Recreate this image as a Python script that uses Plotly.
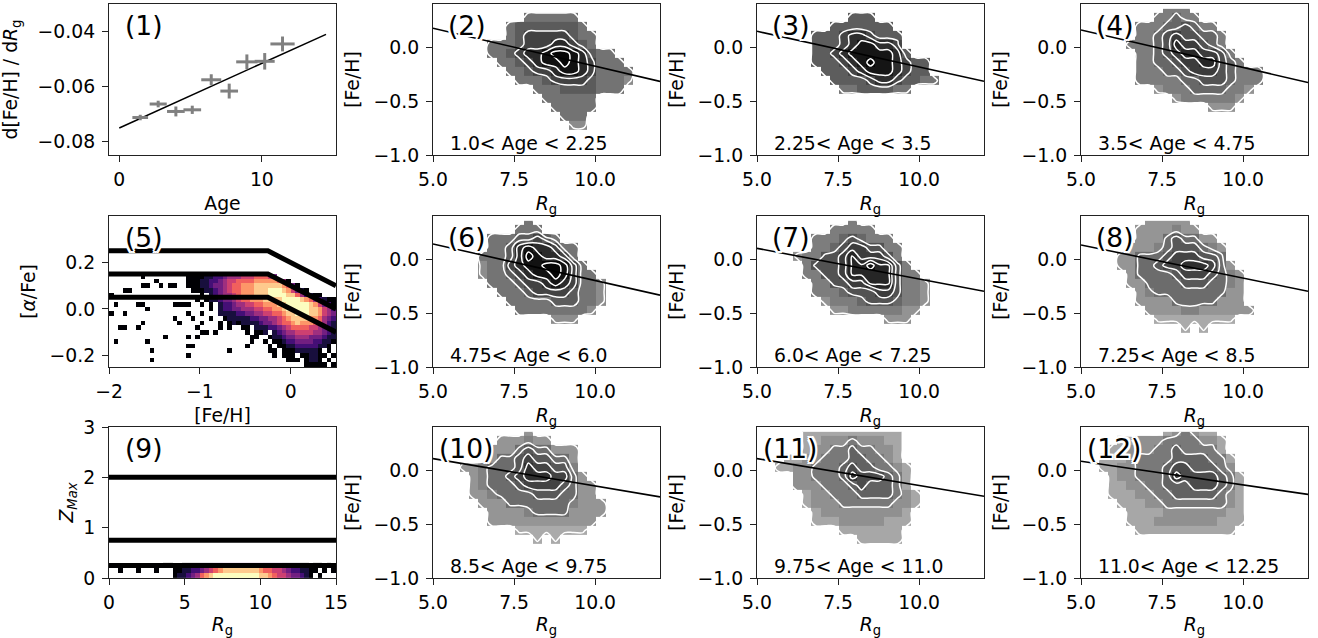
import plotly.graph_objects as go
import plotly.colors as pc

FONT = "DejaVu Sans"
FS = 18.8
W, H = 1318, 638
COLS = [(109, 336), (433, 660), (757, 984), (1081, 1308)]
ROWS = [(4, 155), (216, 367), (427, 578)]

# panel 1: gradient against age
age = [1.47, 2.73, 3.97, 5.12, 6.45, 7.71, 8.95, 10.2, 11.45]
grad = [-0.0712, -0.0663, -0.069, -0.0684, -0.0575, -0.0616, -0.051, -0.0508, -0.0445]
age_err = [0.55, 0.6, 0.62, 0.62, 0.7, 0.62, 0.75, 0.7, 0.85]
grad_err = [0.001, 0.0012, 0.0018, 0.0015, 0.002, 0.0027, 0.0027, 0.003, 0.0027]
fit_age = [0, 14.5]
fit_grad = [-0.075, -0.041]

age_labels = {2: "1.0< Age < 2.25", 3: "2.25< Age < 3.5", 4: "3.5< Age < 4.75",
              6: "4.75< Age < 6.0", 7: "6.0< Age < 7.25", 8: "7.25< Age < 8.5",
              10: "8.5< Age < 9.75", 11: "9.75< Age < 11.0", 12: "11.0< Age < 12.25"}
# fitted gradient line: [Fe/H] at Rg=5 and Rg=12
line_ends = {2: (0.176, -0.318), 3: (0.147, -0.316), 4: (0.159, -0.328),
             6: (0.141, -0.334), 7: (0.10, -0.298), 8: (0.131, -0.298),
             10: (0.107, -0.248), 11: (0.107, -0.242), 12: (0.083, -0.225)}
outer_levels = {2: 2.0, 3: 2.5, 4: 2.0, 6: 2.0, 7: 2.0, 8: 1.5, 10: 1.5, 11: 1.0, 12: 1.0}
inner_levels = {2: [5.5, 6.5, 7.5, 8.5], 3: [5.6, 6.6, 7.6, 8.6], 4: [4.5, 5.5, 6.5, 7.5],
                6: [4.5, 5.5, 6.5, 7.5, 8.5], 7: [5.5, 6.5, 7.3, 7.9, 8.6], 8: [4.5, 5.5, 6.5, 7.5],
                10: [4.5, 5.5, 6.5, 7.5], 11: [3.6, 4.6, 5.5, 6.5], 12: [3.5, 4.5, 5.5, 6.5]}
gray_top = {2: 8.4, 3: 8.6, 4: 9.5, 6: 8.5, 7: 9.5, 8: 10, 10: 10, 11: 9, 12: 9}

# density grids, bins of 0.28 in Rg and 0.0833 in [Fe/H], from [Fe/H]=0.4 down; '.' is empty
grid2 = ["",
 ".......... 444444",
 "........ 455555554",
 "........ 4566666544",
 "...... 444566677654",
 "...... 44567789987544",
 "....... 44567889876444",
 "........ 44566788764444",
 "......... 4445666654443",
 "........... 4445555444",
 "............ 444444",
 "............. 44444",
 ".............. 444",
 "............... 33"]
grid3 = ["",
 ".......... 555",
 "........ 5555555",
 "...... 5556776555",
 "...... 5556788776",
 "...... 55678888875",
 "...... 5556789887655",
 "....... 555678887655",
 "........ 555567765544",
 "......... 44555544"]
grid4 = [
 "......... 444",
 "........ 44544",
 "...... 444556544",
 "...... 4456766554",
 "..... 44456877654",
 "...... 44567887764",
 "...... 445567788654",
 "...... 44455677765444",
 "...... 44444556665444",
 "........ 34445555443",
 ".......... 34444443",
 ".............. 333"]
grid6 = [
 ".......... 4",
 "......... 444",
 "...... 44455654",
 "...... 4457877644",
 "..... 44457987764",
 "..... 344678899864",
 "..... 3445678898644",
 "...... 4445667876443",
 "....... 444566665443",
 "........ 44444555443",
 "......... 444444443",
 "............. 333"]
grid7 = [
 ".......... 4",
 "........ 44444",
 "...... 444565444",
 "...... 4456776644",
 ".... 344667877764",
 "..... 466678898864",
 "..... 4466788888644",
 "...... 4466778886443",
 "...... 4445666776443",
 "....... 344456665443",
 "........ 3344444433",
 ".............. 333"]
grid8 = [
 "....... 33333",
 "...... 3333433",
 "...... 333565533",
 "..... 33345666543",
 ".... 335556777665",
 ".... 3355677888753",
 "..... 3555567776543",
 "..... 3355556665543",
 "...... 345555555533",
 "...... 333355555333",
 "....... 333344333333",
 "........ 222222222",
 "........... 2.2"]
grid10 = [
 ".......... 3",
 "....... 333433",
 "...... 3335655333",
 "...... 3556766553",
 "... 3345556877664",
 ".... 3455678887753",
 ".... 34555677776533",
 ".... 33455556665533",
 "..... 33355555554333",
 "...... 3333455553333",
 "...... 333333333333",
 "......... 22222222",
 "........... 2.2"]
grid11 = [
 "..... 22222222222",
 "..... 22333433322",
 "..... 23344544332",
 "... 2233444554432",
 ".. 223344456554432",
 ".... 3344457666542",
 ".... 3334445655542",
 "..... 2334445555432",
 "..... 2333444444332",
 "...... 23333333332",
 "...... 22233333222",
 "......... 2222222",
 "........... 22222"]
grid12 = [
 "......... 234322",
 ".... 223334444332",
 "... 2233344544442",
 ".. 222344445555442",
 ".. 223344456655543",
 "... 233444576666542",
 "... 223344555666542",
 "... 222334455555432",
 ".... 22233444444432",
 "..... 2222333333322",
 "..... 2223333333222",
 "...... 22222222222"]
grids = {2: grid2, 3: grid3, 4: grid4, 6: grid6, 7: grid7, 8: grid8, 10: grid10, 11: grid11, 12: grid12}

# panel 5: [alpha/Fe] vs [Fe/H], bins 0.05 x 0.02, from 0.15 down
alpha_grid = [
 ".......0.. .......000 0112234445 5566653... .......... ",
 ".......... 0......000 1122345566 6677777640 .......... ",
 ".......00. .0.00..000 1123345667 7788888876 30........ ",
 "...00..... ........00 0112345667 7788899987 5310...... ",
 "0......... .......... 0.12344567 7788899998 8642100... ",
 ".......... .........0 .011233456 6777888899 9987642100 ",
 ".0....00.. ....0000.. 0.0.122344 5566777889 9999875320 ",
 "........0. .......... ..0.122334 4455667789 9999887542 ",
 "0..0...... .......0.. 0...111122 3344556678 8999887543 ",
 ".......... ....0...0. ..0..01111 1223344567 8888776432 ",
 ".......0.. .....0.... 0...0.0101 1112334566 7877766421 ",
 "..00..0... .........0 ....0.0..0 0.11122345 6666554321 ",
 ".......... .......... 00.0...... 0.001.1234 4555544321 ",
 ".......... ..0....0.0 .......... .00..01123 3444333211 ",
 ".0......0. .......... .......... .0..0.0012 2333322110 ",
 ".......... .......00. .......... 0....0.001 122222110. ",
 ".........0 .......... ......0... .....00.00 0111110.0. ",
 ".......... .......0.. .......... ......0.00 0.001100.0 ",
 ".........0 .......... .......... .........0 00.0110.0. ",
 ".......... .......... .......... .......... ...00000.0 "]
alpha_band_low = [(-2, 0.05), (-0.25, 0.05), (0.5, -0.1)]
alpha_band_mid = [(-2, 0.15), (-0.25, 0.15), (0.5, 0.0)]
alpha_band_high = [(-2, 0.25), (-0.25, 0.25), (0.5, 0.1)]

# panel 9: Zmax vs Rg, bins 0.3 x 0.1, from Zmax = 0 up
zmax_grid = [
 ".......... ....011234 6789999999 9998876554 33210.0...",
 "..0...0... 0...001122 3456788888 8887665543 221100.0.0",
 ".......... ..00..0000 1112233333 3333222211 1100.00.0."]
zmax_lines = [2.0, 0.75, 0.25]

RG_RANGE = [5, 12]
FEH_RANGE = [-1.0, 0.4]

fig = go.Figure()
layout = dict(width=W, height=H, autosize=False, margin=dict(l=0, r=0, t=0, b=0, pad=0),
              paper_bgcolor="white", plot_bgcolor="white", showlegend=False,
              font=dict(family=FONT, size=FS, color="black"), annotations=[])


def ax(n):
    return "" if n == 1 else str(n)


def axis_setup(n, xr, yr, xticks, yticks, xtext, ytext, xtitle, ytitle, xs=8, ys=8):
    r = (n - 1) // 4
    c = (n - 1) % 4
    x0, x1 = COLS[c]
    y0, y1 = ROWS[r]
    common = dict(showgrid=False, zeroline=False, showline=True, mirror=True, linecolor="#222222",
                  linewidth=1.2, ticks="outside", ticklen=6, tickwidth=1.2, tickcolor="#222222",
                  automargin=False, tickfont=dict(family=FONT, size=FS, color="black"))
    layout[f"xaxis{ax(n)}"] = dict(common, domain=[x0 / W, x1 / W], range=xr, tickvals=xticks, ticktext=xtext,
                                   ticklabelstandoff=1, anchor=f"y{ax(n)}",
                                   title=dict(text=xtitle, standoff=xs, font=dict(family=FONT, size=FS)))
    layout[f"yaxis{ax(n)}"] = dict(common, domain=[1 - y1 / H, 1 - y0 / H], range=yr, tickvals=yticks, ticktext=ytext,
                                   ticklabelstandoff=3, anchor=f"x{ax(n)}",
                                   title=dict(text=ytitle, standoff=ys, font=dict(family=FONT, size=FS)))


def label(n, text, px_left, px_mid, size, halo=False):
    c = (n - 1) % 4
    r = (n - 1) // 4
    w = COLS[c][1] - COLS[c][0]
    h = ROWS[r][1] - ROWS[r][0]
    f = dict(family=FONT, size=size, color="black")
    if halo:
        f["shadow"] = "2px 0 0 #fff,-2px 0 0 #fff,0 2px 0 #fff,0 -2px 0 #fff,2px 2px 0 #fff,-2px -2px 0 #fff,2px -2px 0 #fff,-2px 2px 0 #fff"
    layout["annotations"].append(dict(text=text, xref=f"x{ax(n)} domain", yref=f"y{ax(n)} domain",
                                      x=px_left / w, y=1 - px_mid / h, xanchor="left", yanchor="middle",
                                      showarrow=False, borderpad=0, borderwidth=0, font=f))


# ---- panel 1
fig.add_trace(go.Scatter(x=fit_age, y=fit_grad, mode="lines", line=dict(color="black", width=1.5),
                         xaxis="x", yaxis="y"))
fig.add_trace(go.Scatter(x=age, y=grad, mode="markers", marker=dict(size=1, color="#808080"),
                         error_x=dict(type="data", array=age_err, color="#808080", thickness=3, width=0),
                         error_y=dict(type="data", array=grad_err, color="#808080", thickness=3, width=0),
                         xaxis="x", yaxis="y"))
axis_setup(1, [-0.72, 15.2], [-0.0848, -0.03], [0, 10], [-0.08, -0.06, -0.04],
           ["0", "10"], ["\u22120.08", "\u22120.06", "\u22120.04"], "Age", "d[Fe/H] / d<i>R</i><sub>g</sub>", ys=16)

# ---- density panels
GRAY = [[0, "rgb(190,190,190)"], [1, "rgb(6,6,6)"]]
for n, g in grids.items():
    rows = [r.replace(" ", "").ljust(25, ".")[:25] for r in g]
    xs = [5 + 0.28 * (i + 0.5) for i in range(25)]
    ys = [0.4 - 0.0833 * (j + 0.5) for j in range(len(rows))]
    # cell edges: the first row starts a little below the top of the panel
    y_edges = [0.355] + [0.4 - 0.0833 * (j + 1) for j in range(len(rows))]
    z = [[None if ch == "." else int(ch) for ch in r] for r in rows]
    # pad with an empty row so that the lowest contour closes
    ys_c = ys + [0.4 - 0.0833 * (len(rows) + 0.5)]
    z_c = [[0 if v is None else v for v in r] for r in z] + [[0] * 25]
    fig.add_trace(go.Heatmap(x=xs, y=y_edges, z=z, zmin=1, zmax=gray_top[n], colorscale=GRAY, showscale=False,
                             hoverongaps=False, xaxis=f"x{n}", yaxis=f"y{n}"))
    for lv in [outer_levels[n]] + inner_levels[n]:
        fig.add_trace(go.Contour(x=xs, y=ys_c, z=z_c, autocontour=False, showscale=False,
                                 contours=dict(start=lv, end=lv, size=1, coloring="none"),
                                 line=dict(color="white", width=1.5, smoothing=1.0),
                                 xaxis=f"x{n}", yaxis=f"y{n}"))
    a, b = line_ends[n]
    fig.add_trace(go.Scatter(x=RG_RANGE, y=[a, b], mode="lines", line=dict(color="black", width=1.6),
                             xaxis=f"x{n}", yaxis=f"y{n}"))
    axis_setup(n, RG_RANGE, FEH_RANGE, [5, 7.5, 10], [-1, -0.5, 0],
               ["5.0", "7.5", "10.0"], ["\u22121.0", "\u22120.5", "0.0"],
               "<i>R</i><sub>g</sub>", "[Fe/H]")
    label(n, age_labels[n], 17, 139.5, FS)

# ---- panel 5
MAGMA = pc.sequential.Magma
rows5 = [r.replace(" ", "") for r in alpha_grid]
xs5 = [-2 + 0.05 * (i + 0.5) for i in range(50)]
ys5 = [0.15 - 0.02 * (j + 0.5) for j in range(len(rows5))]
z5 = [[None if ch == "." else int(ch) for ch in r] for r in rows5]
fig.add_trace(go.Heatmap(x=xs5, y=ys5, z=z5, zmin=0, zmax=9, colorscale=MAGMA, showscale=False,
                         hoverongaps=False, xaxis="x5", yaxis="y5"))
for band in (alpha_band_low, alpha_band_mid, alpha_band_high):
    fig.add_trace(go.Scatter(x=[p[0] for p in band], y=[p[1] for p in band], mode="lines",
                             line=dict(color="black", width=5), xaxis="x5", yaxis="y5"))
axis_setup(5, [-2, 0.5], [-0.25, 0.4], [-2, -1, 0], [-0.2, 0, 0.2], ["\u22122", "\u22121", "0"],
           ["\u22120.2", "0.0", "0.2"], "[Fe/H]", "[<i>\u03b1</i>/Fe]")

# ---- panel 9
rows9 = [r.replace(" ", "") for r in zmax_grid]
xs9 = [0.3 * (i + 0.5) for i in range(50)]
ys9 = [0.1 * (j + 0.5) for j in range(len(rows9))]
z9 = [[None if ch == "." else int(ch) for ch in r] for r in rows9]
fig.add_trace(go.Heatmap(x=xs9, y=ys9, z=z9, zmin=0, zmax=9, colorscale=MAGMA, showscale=False,
                         hoverongaps=False, xaxis="x9", yaxis="y9"))
for v in zmax_lines:
    fig.add_trace(go.Scatter(x=[0, 15], y=[v, v], mode="lines", line=dict(color="black", width=5),
                             xaxis="x9", yaxis="y9"))
axis_setup(9, [0, 15], [0, 3], [0, 5, 10, 15], [0, 1, 2, 3], ["0", "5", "10", "15"], ["0", "1", "2", "3"],
           "<i>R</i><sub>g</sub>", "<i>Z</i><sub><i>Max</i></sub>", ys=4)

# ---- panel tags
tag_left = {1: 16, 2: 15, 3: 15, 4: 15, 5: 16, 6: 15, 7: 15, 8: 15, 9: 16, 10: 6, 11: 6, 12: 6}
for n, left in tag_left.items():
    label(n, f"({n})", left, 21.5, 26.5, halo=True)

fig.update_layout(**layout)
fig.write_html("out.html", config={"displayModeBar": False}, post_script="document.body.style.margin='0';")
